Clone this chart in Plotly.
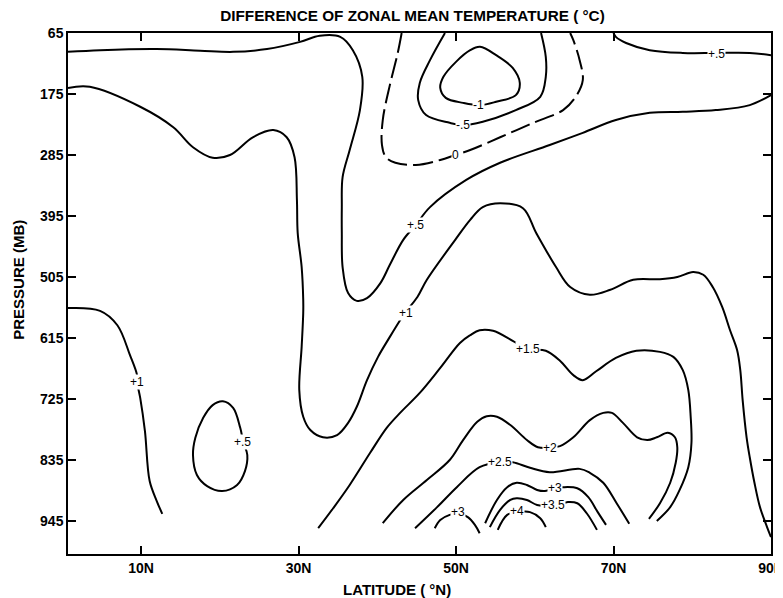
import plotly.graph_objects as go

# ---- axis definitions ----
lat_ticks = [10, 30, 50, 70, 90]
lat_tick_labels = ["10N", "30N", "50N", "70N", "90N"]
p_ticks = [65, 175, 285, 395, 505, 615, 725, 835, 945]
p_tick_labels = [str(v) for v in p_ticks]

# ---- contour paths: latitude (deg N) and pressure (mb) ----
pos05_main_lat = [0.73, 4.8, 12.0, 17.5, 21.7, 26.0, 30.2, 32.7, 35.3, 36.9, 38.1, 37.8, 36.5, 35.6,
                  35.5, 35.5, 35.6, 36.3, 37.4, 38.7, 40.4, 41.6, 43.3, 44.9, 46.7, 51.3, 55.6,
                  61.9, 66.1, 70.3, 74.6, 78.8, 83.0, 87.3, 90.0]
pos05_main_p = [99, 96, 94, 97, 99, 94, 81, 70, 72, 96, 144, 204, 276, 325,
                379, 426, 487, 534, 548, 543, 516, 483, 438, 411, 379, 330, 299,
                267, 245, 222, 209, 207, 204, 195, 177]

pos05_ne_lat = [70.0, 70.3, 71.6, 74.6, 78.8, 83.0, 87.3, 90.0]
pos05_ne_p = [65, 72, 83, 96, 101, 101, 101, 105]

pos1_main_lat = [0.73, 3.5, 9.9, 14.1, 16.6, 19.1, 21.3, 24.2, 26.8, 28.5, 29.5, 29.8, 29.9, 30.4,
                 30.6, 30.6, 30.4, 30.1, 30.6, 31.5, 33.1, 34.9, 36.3, 37.4, 38.7, 40.1, 41.6,
                 42.9, 43.5, 45.1, 46.3, 49.9, 51.8, 53.4, 55.6, 58.5, 60.2, 62.7, 64.5, 67.0,
                 69.6, 72.5, 75.9, 78.1, 80.1, 81.4, 82.6, 83.8, 84.8, 85.7, 86.1, 86.4, 86.9,
                 87.3, 87.9, 88.6, 89.5, 90.0]
pos1_main_p = [164, 162, 198, 235, 271, 290, 285, 253, 240, 253, 289, 366, 426, 487,
               546, 570, 631, 709, 757, 781, 794, 790, 768, 739, 691, 649, 613,
               583, 570, 541, 510, 438, 402, 379, 372, 381, 426, 487, 523, 537,
               528, 510, 509, 505, 496, 501, 523, 559, 601, 637, 673, 727, 794,
               830, 876, 920, 956, 974]

pos1_west_lat = [0.73, 4.8, 7.0, 8.6, 9.5, 9.5, 9.9, 10.5, 11.1, 12.0, 12.7]
pos1_west_p = [561, 566, 592, 646, 682, 694, 723, 783, 873, 909, 932]

pos05_loop_lat = [20.4, 21.7, 22.6, 23.0, 23.5, 23.2, 22.2, 20.3, 18.4, 17.1, 16.6, 16.9, 17.9, 19.1, 20.4]
pos05_loop_p = [729, 741, 777, 803, 826, 855, 880, 891, 882, 862, 826, 795, 759, 736, 729]

pos15_lat = [32.5, 34.4, 36.5, 39.1, 41.2, 42.9, 45.4, 48.0, 50.5, 51.8, 53.0, 54.7, 57.2, 59.1,
             61.4, 63.2, 64.9, 66.1, 67.8, 70.3, 72.9, 75.9, 77.6, 78.8, 79.5, 79.8, 79.9,
             79.5, 78.4, 77.2, 75.5]
pos15_p = [958, 922, 880, 822, 777, 750, 714, 669, 624, 610, 601, 602, 620, 635,
           638, 656, 682, 691, 675, 651, 638, 640, 649, 673, 709, 757, 804,
           848, 889, 920, 945]

pos2_lat = [40.7, 43.3, 46.3, 49.2, 50.9, 52.7, 53.9, 55.2, 56.9, 59.0, 60.4, 61.9, 63.2, 64.9,
            67.0, 68.7, 69.8, 71.2, 73.0, 74.3, 75.5, 76.9, 77.8, 78.1, 77.9, 77.2, 75.9, 74.5]
pos2_p = [949, 907, 871, 835, 799, 766, 756, 757, 772, 799, 812, 813, 810, 794,
          763, 750, 750, 768, 794, 799, 794, 786, 794, 812, 840, 876, 913, 941]

pos25_lat = [44.8, 47.6, 50.1, 53.0, 55.6, 57.2, 59.4, 61.9, 65.7, 67.0, 68.7, 70.4, 72.0]
pos25_p = [958, 920, 884, 848, 839, 839, 849, 857, 851, 858, 876, 913, 950]

pos3_west_lat = [47.3, 48.0, 49.2, 50.3, 51.5, 52.4, 53.0]
pos3_west_p = [958, 943, 934, 931, 938, 952, 967]

pos3_east_lat = [53.7, 55.2, 56.5, 57.7, 59.0, 60.3, 61.3, 62.6, 63.6, 65.4, 66.8, 68.0, 69.05]
pos3_east_p = [949, 907, 884, 876, 880, 889, 891, 886, 884, 886, 902, 929, 952]

pos35_lat = [54.3, 55.6, 56.9, 57.7, 59.0, 60.3, 62.3, 64.1, 65.4, 66.6, 67.9]
pos35_p = [956, 925, 907, 904, 907, 916, 916, 911, 913, 931, 961]

pos4_lat = [55.3, 56.5, 57.9, 59.4, 60.7, 61.4]
pos4_p = [961, 934, 929, 929, 940, 956]

zero_lat = [43.1, 42.6, 41.6, 40.7, 40.6, 41.1, 42.3, 44.9, 48.0, 49.9, 51.8, 55.6, 59.8, 63.6,
            65.2, 66.1, 65.7, 64.9, 64.5]
zero_p = [65, 101, 159, 222, 267, 289, 299, 303, 294, 285, 276, 253, 227, 204,
          180, 150, 114, 78, 65]

neg05_lat = [48.6, 46.7, 45.4, 45.2, 46.2, 49.2, 50.9, 53.4, 57.6, 60.7, 61.4, 61.4, 60.8]
neg05_p = [65, 114, 155, 186, 213, 227, 231, 225, 204, 180, 144, 108, 65]

neg1_lat = [53.05, 55.1, 57.2, 58.1, 57.6, 55.1, 53.05, 50.9, 48.7, 48.0, 48.4, 50.0, 51.8, 53.05]
neg1_p = [90, 105, 128, 155, 177, 189, 195, 191, 182, 164, 144, 117, 96, 90]

# ---- contour labels ----
label_text = ["+.5", "+.5", "+1", "+1", "+.5", "+1.5", "+2", "+2.5", "+3", "+3", "+3.5", "+4", "0", "-.5", "-1"]
label_lat = [44.9, 83.1, 43.6, 9.5, 22.95, 59.1, 61.9, 55.6, 50.3, 62.6, 62.3, 57.8, 49.9, 50.9, 52.8]
label_p = [411, 103, 570, 694, 803, 635, 813, 839, 929, 886, 916, 927, 285, 231, 195]

paths = [
    (pos05_main_lat, pos05_main_p, "solid"),
    (pos05_ne_lat, pos05_ne_p, "solid"),
    (pos1_main_lat, pos1_main_p, "solid"),
    (pos1_west_lat, pos1_west_p, "solid"),
    (pos05_loop_lat, pos05_loop_p, "solid"),
    (pos15_lat, pos15_p, "solid"),
    (pos2_lat, pos2_p, "solid"),
    (pos25_lat, pos25_p, "solid"),
    (pos3_west_lat, pos3_west_p, "solid"),
    (pos3_east_lat, pos3_east_p, "solid"),
    (pos35_lat, pos35_p, "solid"),
    (pos4_lat, pos4_p, "solid"),
    (zero_lat, zero_p, "20px,6px"),
    (neg05_lat, neg05_p, "solid"),
    (neg1_lat, neg1_p, "solid"),
]

FONT = "Liberation Sans, Arial, Helvetica, sans-serif"

fig = go.Figure()
for lx, py, dash in paths:
    fig.add_trace(go.Scatter(
        x=lx, y=py, mode="lines",
        line=dict(color="black", width=2, shape="spline", smoothing=1.0, dash=dash),
        hoverinfo="skip", showlegend=False,
    ))

for t, lx, py in zip(label_text, label_lat, label_p):
    fig.add_annotation(x=lx, y=py, xref="x", yref="y", text=t, showarrow=False,
                       font=dict(family=FONT, size=12, color="black"),
                       bgcolor="white", borderpad=0)

fig.add_annotation(x=0.468, y=-0.069, xref="paper", yref="paper",
                   text="LATITUDE ( °N)", showarrow=False, yanchor="middle",
                   font=dict(family=FONT, size=15, color="black", weight="bold"))
fig.add_annotation(x=-0.07, y=0.526, xref="paper", yref="paper",
                   text="PRESSURE (MB)", showarrow=False, textangle=-90,
                   xanchor="center", yanchor="middle",
                   font=dict(family=FONT, size=15, color="black", weight="bold"))

# the page body adds an 8px offset, so the figure is sized to fit the window exactly
fig.update_layout(
    width=775, height=590,
    margin=dict(l=60, r=12, t=25, b=44, autoexpand=False),
    paper_bgcolor="white", plot_bgcolor="white",
    title=dict(text="DIFFERENCE OF ZONAL MEAN TEMPERATURE ( °C)",
               x=0.49, xref="paper", xanchor="center",
               y=1 - 7.5 / 590, yref="container", yanchor="middle",
               font=dict(family=FONT, size=15.3, color="black", weight="bold")),
    showlegend=False,
)
fig.update_xaxes(range=[0.73, 90], tickvals=lat_ticks, ticktext=lat_tick_labels,
                 ticks="inside", ticklen=8, tickwidth=1.5, tickcolor="black",
                 showline=True, linecolor="black", linewidth=1.5, mirror="ticks",
                 showgrid=False, zeroline=False, automargin=False,
                 ticklabeloverflow="allow",
                 tickfont=dict(family=FONT, size=14, color="black", weight="bold"))
fig.update_yaxes(range=[1004.5, 65], tickvals=p_ticks, ticktext=p_tick_labels,
                 ticks="inside", ticklen=8, tickwidth=1.5, tickcolor="black",
                 showline=True, linecolor="black", linewidth=1.5, mirror="ticks",
                 showgrid=False, zeroline=False, automargin=False,
                 ticklabeloverflow="allow",
                 tickfont=dict(family=FONT, size=14, color="black", weight="bold"))

fig.write_html("out.html")
